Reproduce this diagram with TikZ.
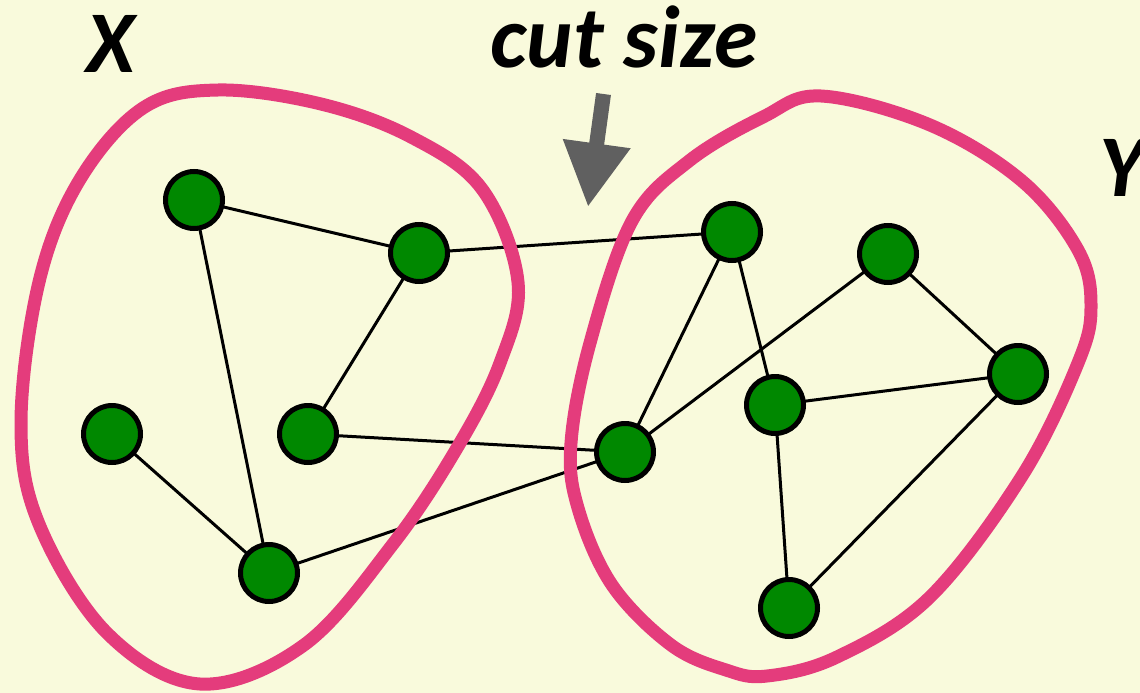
\documentclass[tikz,border=0pt]{standalone}
\usepackage{fontspec}
\setmainfont{Carlito}
\usetikzlibrary{arrows.meta}
\definecolor{bgc}{RGB}{249,250,220}
\definecolor{blobc}{RGB}{228,60,124}
\definecolor{nodec}{RGB}{0,136,0}
\definecolor{arrc}{RGB}{96,96,96}
\tikzset{
  vtx/.style={circle, draw=black, line width=5pt, fill=nodec, minimum size=57pt, inner sep=0pt},
  edge/.style={draw=black, line width=3pt},
  blob/.style={draw=blobc, line width=13pt},
  lbl/.style={font=\fontsize{88}{96}\selectfont\bfseries\itshape, inner sep=0pt, anchor=base}
}
\begin{document}
\begin{tikzpicture}[x=1pt,y=-1pt]
\fill[bgc] (0,0) rectangle (1140,693);
\useasboundingbox (0,0) rectangle (1140,693);
% node coordinates
\coordinate (pA) at (194,200);
\coordinate (pB) at (419,253);
\coordinate (pC) at (112,434);
\coordinate (pD) at (308,434);
\coordinate (pE) at (269,573);
\coordinate (pF) at (732,232);
\coordinate (pG) at (888,254);
\coordinate (pH) at (1018,374);
\coordinate (pI) at (775,405);
\coordinate (pJ) at (625,452);
\coordinate (pK) at (789,608);
% edges
\draw[edge] (pA) -- (pB);
\draw[edge] (pA) -- (pE);
\draw[edge] (pB) -- (pD);
\draw[edge] (pB) -- (pF);
\draw[edge] (pC) -- (pE);
\draw[edge] (pD) -- (pJ);
\draw[edge] (pE) -- (pJ);
\draw[edge] (pF) -- (pJ);
\draw[edge] (pF) -- (pI);
\draw[edge] (pG) -- (pJ);
\draw[edge] (pG) -- (pH);
\draw[edge] (pI) -- (pH);
\draw[edge] (pI) -- (pK);
\draw[edge] (pH) -- (pK);
% blobs
\draw[blob] plot[smooth cycle, tension=0.6] coordinates {
  (218,90) (321,104) (411,137) (482,189) (518,282) (500,363) (457,448)
  (393,544) (304,645) (200,684) (107,633) (39,524) (21,423) (39,282) (79,181) (143,108)};
\draw[blob] plot[smooth cycle, tension=0.6] coordinates {
  (821,96) (930,125) (1022,181) (1078,250) (1091,306) (1078,363) (1022,476)
  (930,597) (837,657) (767,676) (726,670) (671,645) (612,585) (578,508)
  (571,443) (590,343) (632,221) (689,161) (763,117)};
% vertices
\foreach \n in {A,B,C,D,E,F,G,H,I,J,K}{\node[vtx] (\n) at (p\n) {};}
% arrow
\coordinate (atop) at (603.5,94);
\coordinate (atip) at (588,207);
\draw[arrc, line width=15pt, -{Triangle[length=64pt,width=64pt]}] (atop) -- (atip);
% labels
\node[lbl] (lx) at (111,72) {X};
\node[lbl] (lcut) at (624,67) {cut size};
\node[lbl] (ly) at (1122,196) {Y};
\end{tikzpicture}
\end{document}
